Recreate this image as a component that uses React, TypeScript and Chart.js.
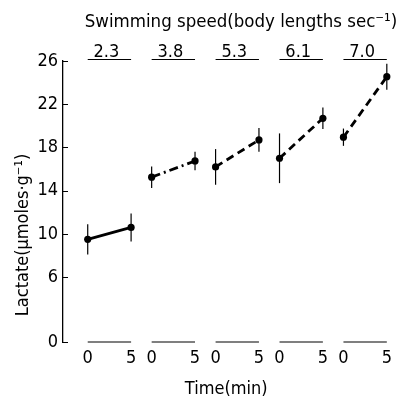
import React, { useEffect, useRef } from "react";
import { Chart, registerables } from "chart.js";

Chart.register(...registerables);

// ---- data ----
const speeds = ["2.3", "3.8", "5.3", "6.1", "7.0"];
const times = [0, 5];
const lactateStart = [9.5, 15.25, 16.2, 17.0, 18.95];
const lactateEnd = [10.6, 16.75, 18.7, 20.7, 24.55];
const errStart = [1.4, 1.0, 1.65, 2.3, 0.8];
const errEnd = [1.3, 0.85, 1.1, 1.0, 1.2];
const yTicks = [0, 6, 10, 14, 18, 22, 26];

const titleText = "Swimming speed(body lengths sec\u207B\u00B9)";
const yTitleText = "Lactate(\u00B5moles\u00B7g\u207B\u00B9)";
const xTitleText = "Time(min)";

// ---- layout / style ----
const GROUP_STEP = 7.37;
const lineDashes: number[][] = [[], [9, 4, 2, 4], [8, 5], [8, 5], [8, 5]];
const FONT = "'Liberation Sans Narrow', 'DejaVu Sans Condensed', 'Arial Narrow', sans-serif";

const xTickValues: number[] = [];
const xTickLabels: string[] = [];
speeds.forEach((_, g) => {
  times.forEach((t) => {
    xTickValues.push(g * GROUP_STEP + t);
    xTickLabels.push(String(t));
  });
});

const annotate = {
  id: "annotate",
  beforeDatasetsDraw(chart: any) {
    const { ctx, scales } = chart;
    const xs = scales.x, ys = scales.y;
    ctx.save();
    ctx.strokeStyle = "#000";
    ctx.lineWidth = 1.2;
    speeds.forEach((_, g) => {
      const pairs = [
        [times[0], lactateStart[g], errStart[g]],
        [times[1], lactateEnd[g], errEnd[g]],
      ];
      pairs.forEach(([t, v, e]) => {
        const px = xs.getPixelForValue(g * GROUP_STEP + t);
        ctx.beginPath();
        ctx.moveTo(px, ys.getPixelForValue(v + e));
        ctx.lineTo(px, ys.getPixelForValue(v - e));
        ctx.stroke();
      });
    });
    ctx.restore();
  },
  afterDraw(chart: any) {
    const { ctx, scales, chartArea } = chart;
    const xs = scales.x, ys = scales.y;
    ctx.save();
    ctx.strokeStyle = "#000";
    ctx.fillStyle = "#000";
    // inward y ticks
    ctx.lineWidth = 1;
    yTicks.forEach((v) => {
      const py = Math.round(ys.getPixelForValue(v)) + 0.5;
      ctx.beginPath();
      ctx.moveTo(chartArea.left, py);
      ctx.lineTo(chartArea.left + 5, py);
      ctx.stroke();
    });
    // group segments (bottom + top) and speed labels
    const yBottom = ys.getPixelForValue(0);
    const yTop = ys.getPixelForValue(26) - 1.5;
    ctx.font = `18px ${FONT}`;
    ctx.textAlign = "center";
    ctx.textBaseline = "alphabetic";
    speeds.forEach((s, g) => {
      const x0 = xs.getPixelForValue(g * GROUP_STEP + times[0]);
      const x1 = xs.getPixelForValue(g * GROUP_STEP + times[1]);
      ctx.lineWidth = 1.1;
      ctx.beginPath();
      ctx.moveTo(x0, yBottom);
      ctx.lineTo(x1, yBottom);
      ctx.stroke();
      ctx.beginPath();
      ctx.moveTo(x0, yTop);
      ctx.lineTo(x1, yTop);
      ctx.stroke();
      ctx.fillText(s, (x0 + x1) / 2 - 3, yTop - 3);
    });
    // main title
    ctx.font = `18.5px ${FONT}`;
    ctx.textAlign = "center";
    ctx.textBaseline = "middle";
    ctx.fillText(titleText, 241, 22);
    // y title
    ctx.translate(23, 235);
    ctx.rotate(-Math.PI / 2);
    ctx.font = `18px ${FONT}`;
    ctx.fillText(yTitleText, 0, 0);
    ctx.restore();
  },
};

export default function App() {
  const ref = useRef<HTMLCanvasElement | null>(null);
  useEffect(() => {
    if (!ref.current) return;
    const datasets = speeds.map((s, g) => ({
      label: s,
      data: [
        { x: g * GROUP_STEP + times[0], y: lactateStart[g] },
        { x: g * GROUP_STEP + times[1], y: lactateEnd[g] },
      ],
      showLine: true,
      borderColor: "#000",
      borderWidth: 2.8,
      borderDash: lineDashes[g],
      pointRadius: 3.6,
      pointBackgroundColor: "#000",
      pointBorderColor: "#000",
      pointBorderWidth: 0,
      clip: false as any,
    }));
    const chart = new Chart(ref.current, {
      type: "scatter",
      data: { datasets },
      options: {
        responsive: false,
        animation: false,
        events: [],
        layout: { padding: { left: 0, right: 3, top: 61, bottom: 0 } },
        plugins: { legend: { display: false }, tooltip: { enabled: false }, title: { display: false } },
        scales: {
          x: {
            type: "linear",
            min: -2.85,
            max: 4 * GROUP_STEP + 5 + 0.3,
            afterBuildTicks: (scale: any) => {
              scale.ticks = xTickValues.map((v) => ({ value: v }));
            },
            afterFit: (scale: any) => {
              scale.height = 56;
            },
            grid: { display: false, drawTicks: false },
            border: { display: false },
            ticks: {
              autoSkip: false,
              maxRotation: 0,
              minRotation: 0,
              padding: 6,
              color: "#000",
              font: { family: FONT, size: 18 },
              callback: (_v: any, i: number) => xTickLabels[i],
            },
            title: {
              display: true,
              text: xTitleText,
              color: "#000",
              font: { family: FONT, size: 18, lineHeight: 1 },
              padding: 0,
            },
          },
          y: {
            type: "linear",
            min: 0,
            max: 26,
            afterBuildTicks: (scale: any) => {
              scale.ticks = yTicks.map((v) => ({ value: v }));
            },
            afterFit: (scale: any) => {
              scale.width = 63;
            },
            grid: { display: false, drawTicks: false },
            border: { display: true, color: "#000", width: 1.3 },
            ticks: {
              autoSkip: false,
              padding: 5,
              color: "#000",
              font: { family: FONT, size: 18 },
              callback: (v: any) => String(v),
            },
          },
        },
      },
      plugins: [annotate],
    });
    return () => chart.destroy();
  }, []);
  return (
    <div style={{ position: "absolute", left: 0, top: 0, width: 398, height: 398, background: "#fff" }}>
      <canvas ref={ref} width={398} height={398} style={{ width: 398, height: 398 }} />
    </div>
  );
}
